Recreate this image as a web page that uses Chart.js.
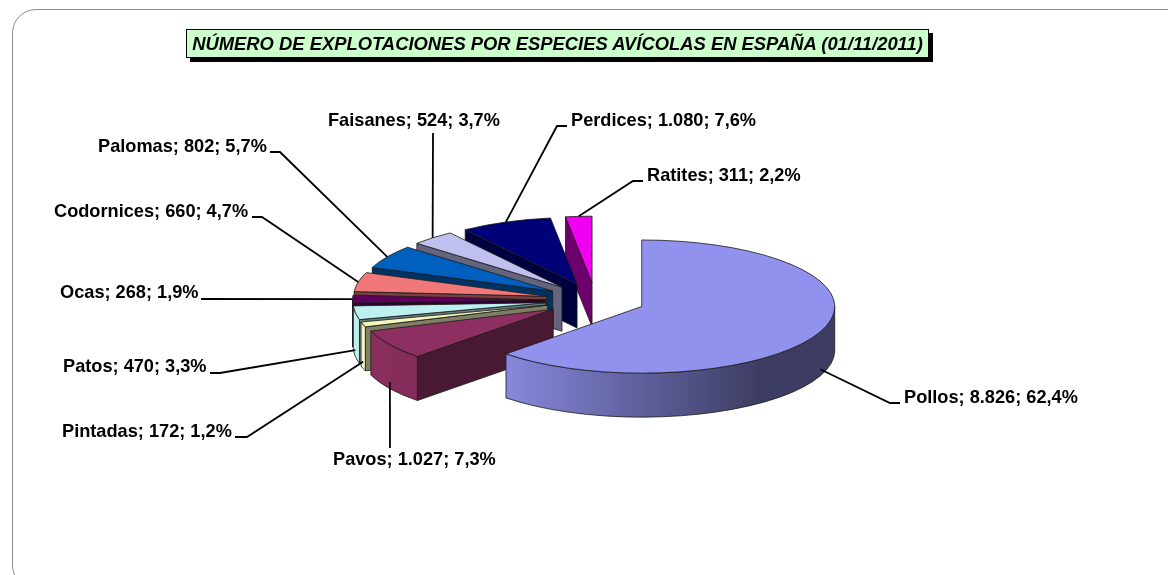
<!DOCTYPE html>
<html lang="es">
<head>
    <meta charset="UTF-8">
    <title>Número de explotaciones por especies avícolas en España</title>
    <script src="https://cdn.jsdelivr.net/npm/chart.js"></script>
    <style>
        html, body { margin: 0; padding: 0; background: #fff; overflow: hidden; }
        #wrap { position: relative; width: 1168px; height: 575px; overflow: hidden; }
        #frame {
            position: absolute; left: 12px; top: 9px; width: 1190px; height: 580px;
            border: 1px solid #8c8c8c; border-radius: 24px; box-sizing: border-box;
        }
        canvas { position: absolute; left: 0; top: 0; }
        #title {
            position: absolute; left: 186px; top: 29px; width: 743px; height: 29px;
            box-sizing: border-box; background: #ccffcc; border: 1px solid #000;
            box-shadow: 4px 4px 0 #000; text-align: center;
            font: italic bold 18.4px/27px "Liberation Sans", Arial, sans-serif; color: #000; white-space: nowrap;
        }
    </style>
</head>
<body>
<div id="wrap">
    <div id="frame"></div>
    <canvas id="pie" width="1168" height="575"></canvas>
    <div id="title">NÚMERO DE EXPLOTACIONES POR ESPECIES AVÍCOLAS EN ESPAÑA (01/11/2011)</div>
</div>
<script>
    // Datos
    const especies = ['Pollos', 'Pavos', 'Pintadas', 'Patos', 'Ocas', 'Codornices', 'Palomas', 'Faisanes', 'Perdices', 'Ratites'];
    const explotaciones = [8826, 1027, 172, 470, 268, 660, 802, 524, 1080, 311];
    const colores = ['#9191ee', '#8d2f60', '#f5f5c0', '#bff0f0', '#5f005f', '#f07878', '#0060c0', '#c0c0f0', '#000078', '#f000f0'];

    // Aspecto del falso 3D
    const aplastado = 0.345;
    const fondo = 44;
    const centroY = 300;
    const separacion = 50;

    // Codos de las lineas guia y posicion de cada etiqueta [x, y base]
    const codos = [[[890, 403], [900, 403]], [[390, 448]], [[247, 437], [235, 437]], [[220, 373], [210, 373]], [[201, 299]], [[262, 217], [252, 217]], [[280, 152], [270, 152]], [[433, 133]], [[557, 126], [567, 126]], [[633, 181], [643, 181]]];
    const etiquetas = [[904, 403], [333, 465], [62, 437], [63, 372], [60, 298], [54, 217], [98, 152], [328, 126], [571, 126], [647, 181]];

    function miles(n) {
        return String(n).replace(/\B(?=(\d{3})+$)/g, '.');
    }

    function textoEtiqueta(i) {
        const total = explotaciones.reduce((a, b) => a + b, 0);
        const pct = (explotaciones[i] / total * 100).toFixed(1).replace('.', ',');
        return especies[i] + '; ' + miles(explotaciones[i]) + '; ' + pct + '%';
    }

    function oscurecer(hex, f) {
        const n = parseInt(hex.slice(1), 16);
        const r = Math.round((n >> 16 & 255) * f);
        const g = Math.round((n >> 8 & 255) * f);
        const b = Math.round((n & 255) * f);
        return 'rgb(' + r + ',' + g + ',' + b + ')';
    }

    // Vertice de la porcion ya separada y aplastada
    function vertice(arc) {
        const mid = (arc.startAngle + arc.endAngle) / 2;
        return { x: arc.x + Math.cos(mid) * separacion, y: centroY + Math.sin(mid) * separacion * aplastado };
    }

    function dibujarPorcion(ctx, arc, color) {
        const v = vertice(arc);
        const r = arc.outerRadius;
        const ry = r * aplastado;
        const ini = arc.startAngle, fin = arc.endAngle;
        ctx.lineWidth = 0.8;
        ctx.strokeStyle = '#1a1a1a';

        // cara lateral del corte
        if (Math.cos(ini) < -0.001) {
            const bx = v.x + Math.cos(ini) * r, by = v.y + Math.sin(ini) * ry;
            ctx.beginPath();
            ctx.moveTo(v.x, v.y);
            ctx.lineTo(bx, by);
            ctx.lineTo(bx, by + fondo);
            ctx.lineTo(v.x, v.y + fondo);
            ctx.closePath();
            ctx.fillStyle = oscurecer(color, 0.43 + 0.09 * Math.min(1, -Math.cos(ini) / 0.5));
            ctx.fill();
            ctx.stroke();
        }

        // pared exterior, solo la mitad delantera
        const a0 = Math.max(ini, 0), a1 = Math.min(fin, Math.PI);
        if (a1 > a0) {
            const g = ctx.createLinearGradient(v.x - r, 0, v.x + r, 0);
            g.addColorStop(0, oscurecer(color, 1));
            g.addColorStop(0.15, oscurecer(color, 0.93));
            g.addColorStop(0.8, oscurecer(color, 0.42));
            g.addColorStop(1, oscurecer(color, 0.42));
            ctx.beginPath();
            ctx.ellipse(v.x, v.y, r, ry, 0, a0, a1);
            ctx.ellipse(v.x, v.y + fondo, r, ry, 0, a1, a0, true);
            ctx.closePath();
            ctx.fillStyle = g;
            ctx.fill();
            ctx.stroke();
        }

        // cara superior: la dibuja el propio elemento de Chart.js
        ctx.save();
        ctx.translate(v.x, v.y);
        ctx.scale(1, aplastado);
        ctx.translate(-arc.x, -arc.y);
        arc.draw(ctx);
        ctx.restore();

        ctx.beginPath();
        ctx.moveTo(v.x, v.y);
        ctx.ellipse(v.x, v.y, r, ry, 0, ini, fin);
        ctx.closePath();
        ctx.stroke();
    }

    const pie3d = {
        id: 'pie3d',
        beforeDatasetDraw(chart) {
            const ctx = chart.ctx;
            const arcs = chart.getDatasetMeta(0).data;
            // de atras hacia delante
            for (let i = arcs.length - 1; i >= 0; i--) {
                dibujarPorcion(ctx, arcs[i], colores[i]);
            }
            return false;
        },
        afterDatasetsDraw(chart) {
            const ctx = chart.ctx;
            const arcs = chart.getDatasetMeta(0).data;
            arcs.forEach((arc, i) => {
                const mid = (arc.startAngle + arc.endAngle) / 2;
                const v = vertice(arc);
                const x = v.x + Math.cos(mid) * arc.outerRadius;
                let y = v.y + Math.sin(mid) * arc.outerRadius * aplastado;
                if (Math.sin(mid) > 0.1) y += fondo * 0.85;
                ctx.beginPath();
                ctx.moveTo(x, y);
                codos[i].forEach(p => ctx.lineTo(p[0], p[1]));
                ctx.lineWidth = 1.8;
                ctx.strokeStyle = '#000';
                ctx.stroke();
                ctx.font = 'bold 18.2px "Liberation Sans", Arial, sans-serif';
                ctx.fillStyle = '#000';
                ctx.textAlign = 'left';
                ctx.textBaseline = 'alphabetic';
                ctx.fillText(textoEtiqueta(i), etiquetas[i][0], etiquetas[i][1]);
            });
        }
    };

    new Chart(document.getElementById('pie'), {
        type: 'pie',
        data: {
            labels: especies,
            datasets: [{ data: explotaciones, backgroundColor: colores, borderWidth: 0 }]
        },
        options: {
            responsive: false,
            animation: false,
            layout: { padding: { left: 402.5, right: 379.5, top: 95, bottom: 94 } },
            plugins: { legend: { display: false }, tooltip: { enabled: false } }
        },
        plugins: [pie3d]
    });
</script>
</body>
</html>
